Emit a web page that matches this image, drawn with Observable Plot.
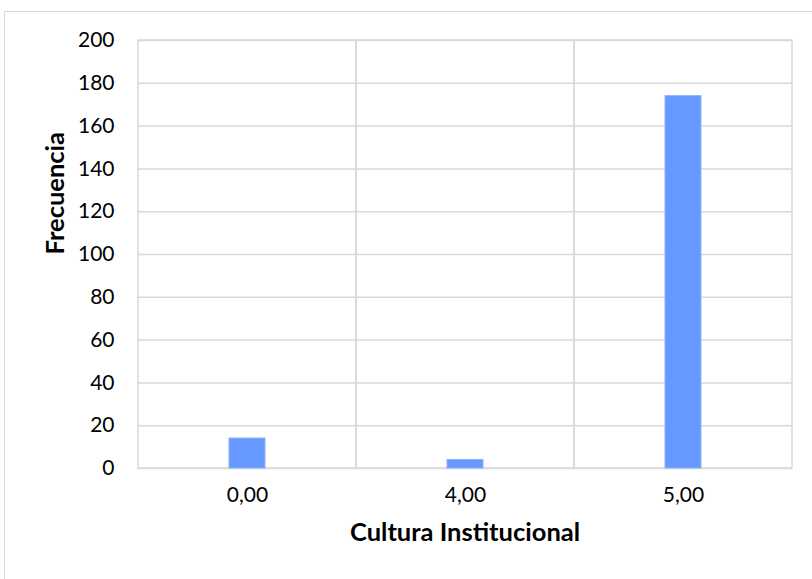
<!DOCTYPE html>
<html>
<head>
<meta charset="utf-8">
<script src="https://cdn.jsdelivr.net/npm/d3@7"></script>
<script src="https://cdn.jsdelivr.net/npm/@observablehq/plot@0.6"></script>
<style>
  html, body { margin: 0; padding: 0; background: #fff; }
  #wrap { position: relative; width: 812px; height: 579px; overflow: hidden; }
  #box { position: absolute; left: 4px; top: 11px; width: 900px; height: 700px;
         border: 1.5px solid #d9d9d9; box-sizing: border-box; }
  #chart { position: absolute; left: 0; top: 0; }
</style>
</head>
<body>
<div id="wrap"><div id="box"></div><div id="chart"></div></div>
<script>
// Frequency of each value of "Cultura Institucional"
const categorias = ["0,00", "4,00", "5,00"];
const frecuencias = [14, 4, 174];
const yTicks = [0, 20, 40, 60, 80, 100, 120, 140, 160, 180, 200];

const tabla = categorias.map((c, i) => ({categoria: c, frecuencia: frecuencias[i]}));

const font = "Lato, 'Open Sans', sans-serif";
const grid = "#d9d9d9";

const chart = Plot.plot({
  width: 812,
  height: 579,
  marginLeft: 137,
  marginRight: 20,
  marginTop: 40,
  marginBottom: 111,
  style: {fontFamily: font, background: "transparent", overflow: "visible"},
  x: {type: "band", domain: categorias, padding: 0, axis: null},
  y: {domain: [0, 200], axis: null},
  marks: [
    // horizontal gridlines
    Plot.ruleY(yTicks, {stroke: grid, strokeWidth: 1.5}),
    // one cell per category: its sides form the vertical gridlines
    Plot.barY(categorias, {x: d => d, y1: 0, y2: 200, fill: "none", stroke: grid, strokeWidth: 1.5}),
    // bars
    Plot.barY(tabla, {x: "categoria", y: "frecuencia", fill: "#6699ff", stroke: "#8cb2ff", strokeWidth: 1, insetLeft: 91, insetRight: 91}),
    // y tick labels
    Plot.text(yTicks, {y: d => d, text: d => String(d), frameAnchor: "left", dx: -23, textAnchor: "end", fontSize: 21, fill: "#000"}),
    // x tick labels
    Plot.text(categorias, {x: d => d, text: d => d, frameAnchor: "bottom", dy: 33, fontSize: 21, fill: "#000"}),
    // axis titles
    Plot.text(["Cultura Institucional"], {text: d => d, frameAnchor: "bottom", dy: 72, fontSize: 25.5, fontWeight: "bold", fill: "#000"}),
    Plot.text(["Frecuencia"], {text: d => d, frameAnchor: "left", dx: -82, rotate: -90, fontSize: 25.5, fontWeight: "bold", fill: "#000"})
  ]
});

document.getElementById("chart").appendChild(chart);
</script>
</body>
</html>
